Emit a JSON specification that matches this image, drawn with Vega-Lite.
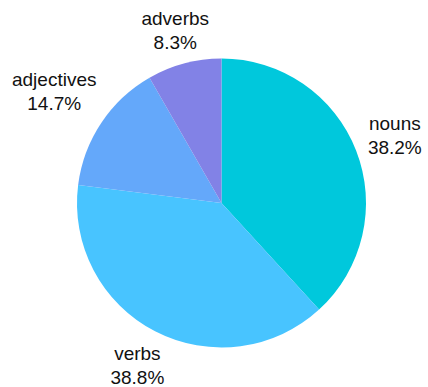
{
  "$schema": "https://vega.github.io/schema/vega-lite/v6.json",
  "width": 428,
  "height": 387,
  "autosize": {"type": "fit", "contains": "padding"},
  "padding": {"left": 15, "top": 19, "right": 0, "bottom": 0},
  "background": "white",
  "view": {"stroke": null},
  "data": {"values": [
    {"category": "nouns", "pct": 38.2, "rank": 1, "label": "nouns\n38.2%"},
    {"category": "verbs", "pct": 38.8, "rank": 2, "label": "verbs\n38.8%"},
    {"category": "adjectives", "pct": 14.7, "rank": 3, "label": "adjectives\n14.7%"},
    {"category": "adverbs", "pct": 8.3, "rank": 4, "label": "adverbs\n8.3%"}
  ]},
  "encoding": {
    "theta": {"field": "pct", "type": "quantitative", "stack": true},
    "order": {"field": "rank", "type": "quantitative"}
  },
  "layer": [
    {
      "mark": {"type": "arc", "outerRadius": 144.5},
      "encoding": {
        "color": {
          "field": "category", "type": "nominal", "legend": null,
          "scale": {"domain": ["nouns", "verbs", "adjectives", "adverbs"],
                    "range": ["#00C8DC", "#48C4FF", "#64A8FA", "#8282E6"]}
        }
      }
    },
    {
      "mark": {
        "type": "text", "radius": 0, "lineBreak": "\n", "fontSize": 19, "lineHeight": 24,
        "font": "Liberation Sans", "fill": "#111111",
        "align": "center", "baseline": "top",
        "dx": {"expr": "(((0.5*max(10.13*length(datum.category)-5.16*(length(datum.category)-length(replace(datum.category,regexp('[ijltr]','g'),''))),10.13*length(format(datum.pct,'.1f'))+11.69))*abs(sin(PI*(datum.pct_start+datum.pct_end)/100))+18.85*abs(cos(PI*(datum.pct_start+datum.pct_end)/100)))+sqrt(((0.5*max(10.13*length(datum.category)-5.16*(length(datum.category)-length(replace(datum.category,regexp('[ijltr]','g'),''))),10.13*length(format(datum.pct,'.1f'))+11.69))*abs(sin(PI*(datum.pct_start+datum.pct_end)/100))+18.85*abs(cos(PI*(datum.pct_start+datum.pct_end)/100)))*((0.5*max(10.13*length(datum.category)-5.16*(length(datum.category)-length(replace(datum.category,regexp('[ijltr]','g'),''))),10.13*length(format(datum.pct,'.1f'))+11.69))*abs(sin(PI*(datum.pct_start+datum.pct_end)/100))+18.85*abs(cos(PI*(datum.pct_start+datum.pct_end)/100)))-(0.5*max(10.13*length(datum.category)-5.16*(length(datum.category)-length(replace(datum.category,regexp('[ijltr]','g'),''))),10.13*length(format(datum.pct,'.1f'))+11.69))*(0.5*max(10.13*length(datum.category)-5.16*(length(datum.category)-length(replace(datum.category,regexp('[ijltr]','g'),''))),10.13*length(format(datum.pct,'.1f'))+11.69))+23670))*sin(PI*(datum.pct_start+datum.pct_end)/100)"},
        "dy": {"expr": "-(((0.5*max(10.13*length(datum.category)-5.16*(length(datum.category)-length(replace(datum.category,regexp('[ijltr]','g'),''))),10.13*length(format(datum.pct,'.1f'))+11.69))*abs(sin(PI*(datum.pct_start+datum.pct_end)/100))+18.85*abs(cos(PI*(datum.pct_start+datum.pct_end)/100)))+sqrt(((0.5*max(10.13*length(datum.category)-5.16*(length(datum.category)-length(replace(datum.category,regexp('[ijltr]','g'),''))),10.13*length(format(datum.pct,'.1f'))+11.69))*abs(sin(PI*(datum.pct_start+datum.pct_end)/100))+18.85*abs(cos(PI*(datum.pct_start+datum.pct_end)/100)))*((0.5*max(10.13*length(datum.category)-5.16*(length(datum.category)-length(replace(datum.category,regexp('[ijltr]','g'),''))),10.13*length(format(datum.pct,'.1f'))+11.69))*abs(sin(PI*(datum.pct_start+datum.pct_end)/100))+18.85*abs(cos(PI*(datum.pct_start+datum.pct_end)/100)))-(0.5*max(10.13*length(datum.category)-5.16*(length(datum.category)-length(replace(datum.category,regexp('[ijltr]','g'),''))),10.13*length(format(datum.pct,'.1f'))+11.69))*(0.5*max(10.13*length(datum.category)-5.16*(length(datum.category)-length(replace(datum.category,regexp('[ijltr]','g'),''))),10.13*length(format(datum.pct,'.1f'))+11.69))+23670))*cos(PI*(datum.pct_start+datum.pct_end)/100)-20.15"}
      },
      "encoding": {"text": {"field": "label", "type": "nominal"}}
    }
  ]
}
